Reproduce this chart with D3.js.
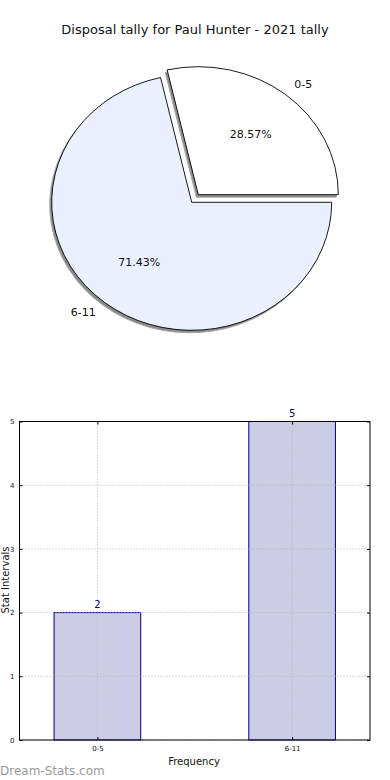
<!DOCTYPE html>
<html><head><meta charset="utf-8">
<script src="https://cdn.jsdelivr.net/npm/d3@7"></script>
<style>
html,body{margin:0;padding:0;background:#fff;}
svg{display:block;font-family:"DejaVu Sans",sans-serif;}
</style></head>
<body>
<svg id="c" width="390" height="780"></svg>
<script>
const title = "Disposal tally for Paul Hunter - 2021 tally";
const categories = ["0-5", "6-11"];
const counts = [2, 5];
const pieColors = ["#ffffff", "#eaf0fe"];
const yTicks = [0, 1, 2, 3, 4, 5];
const xLabel = "Frequency";
const yLabel = "Stat Intervals";
const watermark = "Dream-Stats.com";

const svg = d3.select("#c");

svg.append("text").attr("x", 195).attr("y", 34).attr("text-anchor", "middle")
  .attr("font-size", 13).attr("fill", "#111").text(title);

// ---------- Pie ----------
const cx = 191.7, cy = 202.3, rx = 140, ry = 128, sy = ry / rx;
const explode = [0.076, 0];
const total = d3.sum(counts);
const pie = d3.pie().sort(null).startAngle(Math.PI / 2).endAngle(Math.PI / 2 - 2 * Math.PI);
const arcs = pie(counts);
const arc = d3.arc().innerRadius(0).outerRadius(rx);

const pg = svg.append("g");
function offs(d, i) {
  const m = (d.startAngle + d.endAngle) / 2;
  const e = explode[i] * rx;
  return [cx + Math.sin(m) * e, cy - Math.cos(m) * e * sy, m];
}
// shadows
arcs.forEach((d, i) => {
  const [ox, oy] = offs(d, i);
  pg.append("path").attr("d", arc(d))
    .attr("transform", `translate(${ox - 2},${oy + 2.5}) scale(1,${sy})`)
    .attr("fill", "#8a8a8a").attr("stroke", "#aaa").attr("stroke-width", 1)
    .attr("vector-effect", "non-scaling-stroke");
});
arcs.forEach((d, i) => {
  const [ox, oy] = offs(d, i);
  pg.append("path").attr("d", arc(d))
    .attr("transform", `translate(${ox},${oy}) scale(1,${sy})`)
    .attr("fill", pieColors[i]).attr("stroke", "#000").attr("stroke-width", 0.9)
    .attr("stroke-linejoin", "miter")
    .attr("vector-effect", "non-scaling-stroke");
});
arcs.forEach((d, i) => {
  const [ox, oy, m] = offs(d, i);
  const lx = ox + Math.sin(m) * rx * 1.1, ly = oy - Math.cos(m) * ry * 1.1;
  pg.append("text").attr("x", lx).attr("y", ly).attr("dy", "0.35em")
    .attr("text-anchor", Math.sin(m) >= 0 ? "start" : "end")
    .attr("font-size", 11).attr("fill", "#111").text(categories[i]);
  const px = ox + Math.sin(m) * rx * 0.6, py = oy - Math.cos(m) * ry * 0.6;
  pg.append("text").attr("x", px).attr("y", py).attr("dy", "0.35em")
    .attr("text-anchor", "middle").attr("font-size", 11).attr("fill", "#111")
    .text((counts[i] / total * 100).toFixed(2) + "%");
});

// ---------- Bars ----------
const L = 19.5, R = 370, T = 421.5, B = 740;
const x = d3.scaleLinear().domain([-0.4, 1.4]).range([L, R]);
const y = d3.scaleLinear().domain([0, 5]).range([B, T]);
const bw = 0.445;
const bg = svg.append("g");

bg.selectAll(".bar").data(counts).join("rect")
  .attr("x", (d, i) => x(i - bw / 2)).attr("width", (d, i) => x(i + bw / 2) - x(i - bw / 2))
  .attr("y", d => y(d)).attr("height", d => B - y(d))
  .attr("fill", "#cccce6").attr("stroke", "#00007f").attr("stroke-width", 1);

// dotted grid
bg.selectAll(".gx").data(categories).join("line")
  .attr("x1", (d, i) => x(i)).attr("x2", (d, i) => x(i)).attr("y1", T).attr("y2", B)
  .attr("stroke", "#b4b4bc").attr("stroke-width", 1).attr("stroke-dasharray", "1,2");
bg.selectAll(".gy").data(yTicks).join("line")
  .attr("x1", L).attr("x2", R).attr("y1", d => y(d)).attr("y2", d => y(d))
  .attr("stroke", "#b4b4bc").attr("stroke-width", 1).attr("stroke-dasharray", "1,2");

bg.selectAll(".vl").data(counts).join("text")
  .attr("x", (d, i) => x(i)).attr("y", d => y(d) - 5)
  .attr("text-anchor", "middle").attr("font-size", 10).attr("fill", "#00007f")
  .text(d => d);

// axes frame
bg.append("rect").attr("x", L).attr("y", T).attr("width", R - L).attr("height", B - T)
  .attr("fill", "none").attr("stroke", "#000").attr("stroke-width", 1);

const yAxis = d3.axisLeft(y).tickValues(yTicks).tickSize(-3).tickPadding(5).tickFormat(d3.format("d"));
const ya = bg.append("g").attr("transform", `translate(${L},0)`).call(yAxis);
ya.select(".domain").remove();
ya.selectAll("text").attr("font-size", 7).attr("font-family", "DejaVu Sans").attr("fill", "#111");
const yAxisR = d3.axisRight(y).tickValues(yTicks).tickSize(-3).tickFormat("");
const yr = bg.append("g").attr("transform", `translate(${R},0)`).call(yAxisR);
yr.select(".domain").remove();

const xAxis = d3.axisBottom(x).tickValues([0, 1]).tickSize(-3).tickPadding(6)
  .tickFormat((d) => categories[d]);
const xa = bg.append("g").attr("transform", `translate(0,${B})`).call(xAxis);
xa.select(".domain").remove();
xa.selectAll("text").attr("font-size", 7).attr("font-family", "DejaVu Sans").attr("fill", "#111");
const xAxisT = d3.axisTop(x).tickValues([0, 1]).tickSize(-3).tickFormat("");
const xt = bg.append("g").attr("transform", `translate(0,${T})`).call(xAxisT);
xt.select(".domain").remove();

bg.append("text").attr("x", 194).attr("y", 765).attr("text-anchor", "middle")
  .attr("font-size", 10).attr("fill", "#111").text(xLabel);
bg.append("text").attr("transform", "translate(8.5,580) rotate(-90)")
  .attr("text-anchor", "middle").attr("font-size", 10).attr("fill", "#111").text(yLabel);

svg.append("text").attr("x", 0).attr("y", 775).attr("font-size", 12)
  .attr("fill", "#999").text(watermark);
</script>
</body></html>
